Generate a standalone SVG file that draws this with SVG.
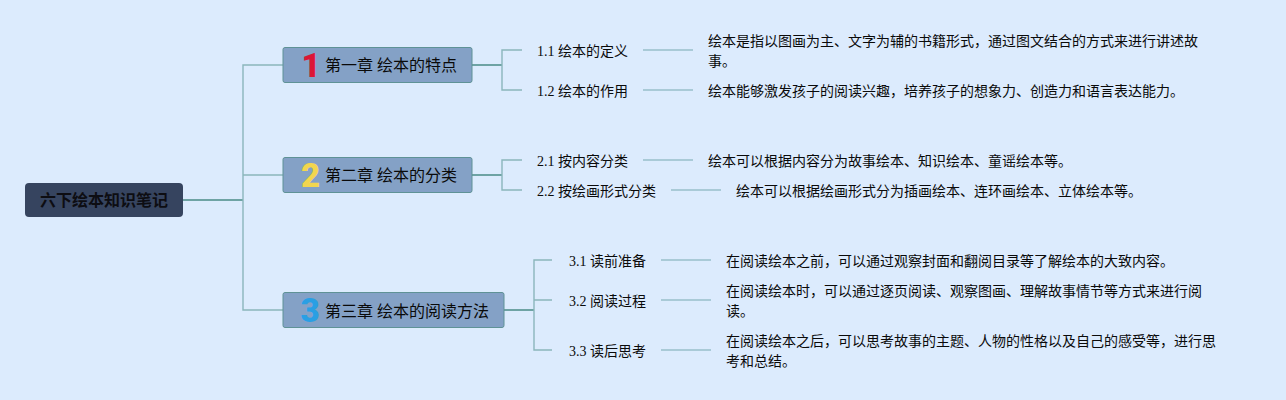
<svg xmlns="http://www.w3.org/2000/svg" width="1286" height="400" viewBox="0 0 1286 400">
<style>
text{font-family:"Liberation Serif","Noto Sans CJK SC",sans-serif;fill:#0a0a0a}
.t{font-size:14px}
.c{font-size:16px}
.r{font-size:16px;font-weight:700;fill:#0d0d12}
text.n{font-family:Roboto,"Liberation Sans",sans-serif;font-size:33px;font-weight:900;text-anchor:middle}
text.n1{fill:#dc1636}
text.n2{fill:#f2d64f}
text.n3{fill:#2a9fe4}
.chap{fill:#84a1c6;stroke:#5f9296;stroke-width:1}
.l1{fill:none;stroke:#8ab6bb;stroke-width:1.4}
.l0{fill:none;stroke:#6ea3a4;stroke-width:2}
.l2{fill:none;stroke:#98c0ca;stroke-width:1.4}
</style>
<rect width="1286" height="400" fill="#dcebfd"/>
<g id="connectors">
<path class="l0" d="M183 200H243"/>
<path class="l1" d="M283 65H243V310H283M243 175H283"/>
<path class="l0" d="M472 65H502M472 175H502M504 310H534"/>
<path class="l1" d="M522 50H502V90H522M522 160H502V190H522M552 260H534V350H552M534 300H552"/>
<path class="l2" d="M643 50H693M643 90H693M643 160H693M671 190H721M661 260H711M661 300H711M661 350H711"/>
</g>
<g id="root"><rect x="25" y="183" width="158" height="34" rx="4" fill="#36445f"/><text class="r" x="40" y="206">六下绘本知识笔记</text></g>
<g id="ch1"><rect class="chap" x="283" y="47.5" width="189" height="35" rx="2"/><text class="n n1" x="311" y="77">1</text><text class="c" x="325" y="71">第一章 绘本的特点</text></g>
<g id="ch2"><rect class="chap" x="283" y="157.5" width="189" height="35" rx="2"/><text class="n n2" x="310.500" y="187">2</text><text class="c" x="325" y="181">第二章 绘本的分类</text></g>
<g id="ch3"><rect class="chap" x="283" y="292.5" width="221" height="35" rx="2"/><text class="n n3" x="310" y="322">3</text><text class="c" x="325" y="317">第三章 绘本的阅读方法</text></g>
<g id="n11"><text class="t" x="537" y="56">1.1 绘本的定义</text></g>
<g id="n12"><text class="t" x="537" y="96">1.2 绘本的作用</text></g>
<g id="n21"><text class="t" x="537" y="166">2.1 按内容分类</text></g>
<g id="n22"><text class="t" x="537" y="196">2.2 按绘画形式分类</text></g>
<g id="n31"><text class="t" x="569" y="266">3.1 读前准备</text></g>
<g id="n32"><text class="t" x="569" y="306">3.2 阅读过程</text></g>
<g id="n33"><text class="t" x="569" y="356">3.3 读后思考</text></g>
<g id="d11"><text class="t" x="708" y="46">绘本是指以图画为主、文字为辅的书籍形式，通过图文结合的方式来进行讲述故</text><text class="t" x="708" y="66">事。</text></g>
<g id="d12"><text class="t" x="708" y="96">绘本能够激发孩子的阅读兴趣，培养孩子的想象力、创造力和语言表达能力。</text></g>
<g id="d21"><text class="t" x="708" y="166">绘本可以根据内容分为故事绘本、知识绘本、童谣绘本等。</text></g>
<g id="d22"><text class="t" x="736" y="196">绘本可以根据绘画形式分为插画绘本、连环画绘本、立体绘本等。</text></g>
<g id="d31"><text class="t" x="726" y="266">在阅读绘本之前，可以通过观察封面和翻阅目录等了解绘本的大致内容。</text></g>
<g id="d32"><text class="t" x="726" y="296">在阅读绘本时，可以通过逐页阅读、观察图画、理解故事情节等方式来进行阅</text><text class="t" x="726" y="316">读。</text></g>
<g id="d33"><text class="t" x="726" y="346">在阅读绘本之后，可以思考故事的主题、人物的性格以及自己的感受等，进行思</text><text class="t" x="726" y="366">考和总结。</text></g>
</svg>
